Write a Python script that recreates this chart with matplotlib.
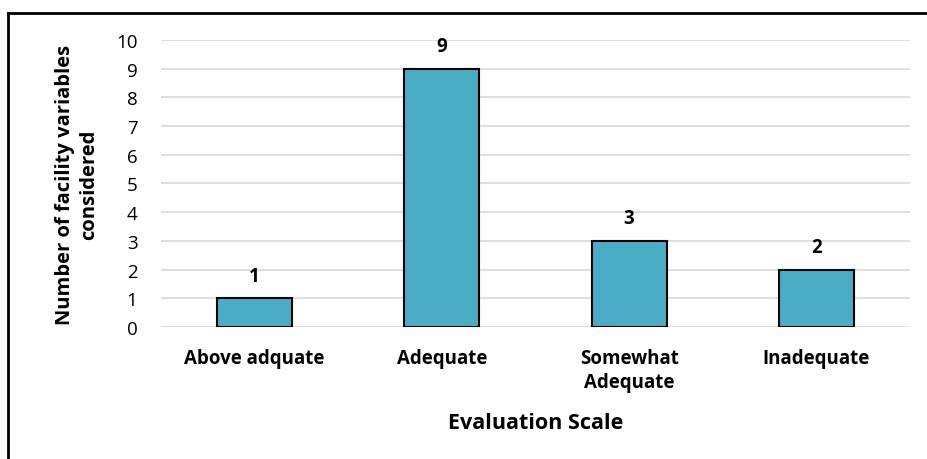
import matplotlib
matplotlib.use("Agg")
import matplotlib.pyplot as plt
from matplotlib.lines import Line2D

categories = ["Above adquate", "Adequate", "Somewhat\nAdequate", "Inadequate"]
counts = [1, 9, 3, 2]
y_ticks = list(range(0, 11))

plt.rcParams["font.family"] = ["Open Sans", "DejaVu Sans"]

fig = plt.figure(figsize=(9.27, 4.60), dpi=100)
ax = fig.add_axes([0.1737, 0.287, 0.808, 0.624])

x = range(len(categories))
ax.bar(x, counts, width=0.4, color="#4bacc6", edgecolor="black", linewidth=1.5, zorder=3)

for xi, v in zip(x, counts):
    ax.annotate(str(v), (xi, v), xytext=(0, 9), textcoords="offset points",
                ha="center", va="bottom", fontsize=13.5, fontweight="bold")

ax.set_xlim(-0.5, len(categories) - 0.5)
ax.set_ylim(0, 10)
ax.set_yticks(y_ticks)
ax.set_xticks(list(x))
ax.set_xticklabels(categories, fontsize=13.5, fontweight="bold", linespacing=1.3)
ax.tick_params(axis="y", labelsize=13.5, length=0, pad=17)
ax.tick_params(axis="x", length=0, pad=15)
ax.grid(axis="y", color="#d9d9d9", linewidth=1.2, zorder=0)
for s in ax.spines.values():
    s.set_visible(False)

ax.set_xlabel("Evaluation Scale", fontsize=15.5, fontweight="bold", labelpad=14)
ax.set_ylabel("Number of facility variables\nconsidered", fontsize=14.5, fontweight="bold",
              labelpad=12, linespacing=1.3)

# outer frame (top and left edges)
fig.add_artist(Line2D([8 / 927, 1.0], [1 - 14 / 460] * 2, color="black", linewidth=2,
                      transform=fig.transFigure))
fig.add_artist(Line2D([8 / 927] * 2, [0.0, 1 - 14 / 460], color="black", linewidth=2,
                      transform=fig.transFigure))

fig.savefig("out.png", dpi=100)
